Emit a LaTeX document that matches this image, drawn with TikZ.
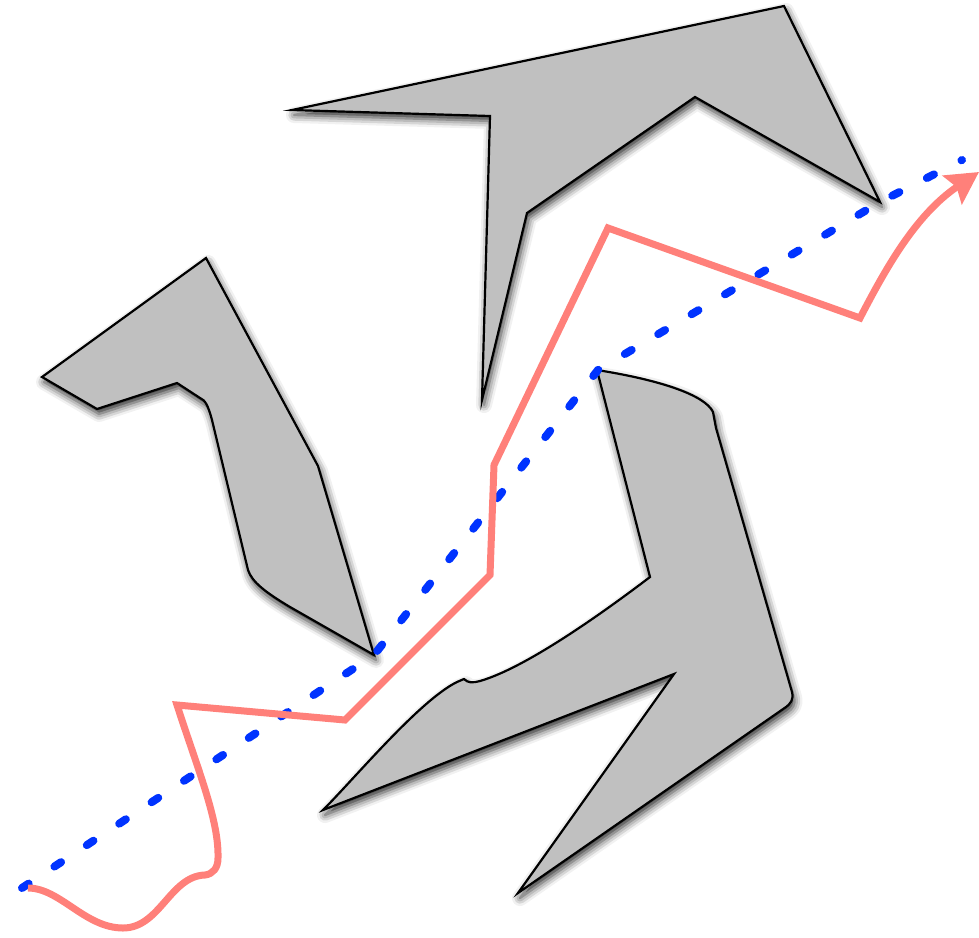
\documentclass[tikz,border=0pt]{standalone}
\usetikzlibrary{arrows.meta,shadows.blur}
\definecolor{obst}{RGB}{192,192,192}
\definecolor{pathred}{RGB}{255,128,122}
\definecolor{pathblue}{RGB}{0,51,255}
\tikzset{
  obstacle/.style={fill=obst, draw=black, line width=2.2pt, line join=miter,
    blur shadow={shadow xshift=2pt, shadow yshift=-5pt, shadow blur radius=8pt, shadow opacity=85}},
  shortest/.style={draw=pathblue, line width=8pt, line cap=round, dash pattern=on 8pt off 30.85pt},
  robot/.style={draw=pathred, line width=7pt, line join=miter,
    -{Stealth[length=32pt,width=34pt,inset=5pt]}}
}
\begin{document}
\begin{tikzpicture}[x=1pt,y=-1pt]
\useasboundingbox (0,0) rectangle (979,937);
% obstacle A (top)
\path[obstacle] (292,110) -- (490,116) -- (482,400) -- (527,213) -- (695,97) -- (880,202) -- (784,6) -- cycle;
% obstacle B (left)
\path[obstacle] (42,377) -- (206,258) -- (318,466) -- (374,655) -- (290,607)
  .. controls (265,592) and (252,582) .. (248,570)
  -- (212,420) .. controls (208,405) and (205,400) .. (200,398)
  -- (177,383) -- (97,409) -- cycle;
% obstacle C (bottom right)
\path[obstacle] (597,370) .. controls (660,380) and (705,395) .. (713,412)
  -- (716,428) -- (792,692) .. controls (794,700) and (790,704) .. (786,707)
  -- (518,893) -- (674,674) -- (323,810)
  .. controls (355,778) and (420,700) .. (457,682)
  -- (464,679) .. controls (468,683) and (472,683) .. (480,681)
  .. controls (525,668) and (600,615) .. (650,577) -- cycle;
% shortest path (blue dashed)
\coordinate (s) at (22,888);
\coordinate (b) at (374,655);
\coordinate (c) at (598,370);
\coordinate (a) at (880,202);
\coordinate (g) at (962,160);
\draw[shortest] (s) -- (b) -- (c) -- (a) -- (g);
% robot path (red)
\coordinate (r0) at (28,888);
\coordinate (r1) at (205,875);
\coordinate (r2) at (177,705);
\coordinate (r3) at (345,720);
\coordinate (r4) at (490,575);
\coordinate (r5) at (494,465);
\coordinate (r6) at (608,228);
\coordinate (r7) at (860,318);
\coordinate (r8) at (979,172);
\draw[robot] (r0) .. controls (60,888) and (85,928) .. (123,928)
  .. controls (160,928) and (170,876) .. (r1)
  .. controls (213,874) and (218,868) .. (218,858)
  .. controls (219,820) and (198,770) .. (r2)
  -- (r3) -- (r4) -- (r5) -- (r6) -- (r7)
  .. controls (885,270) and (915,215) .. (r8);
\end{tikzpicture}
\end{document}
